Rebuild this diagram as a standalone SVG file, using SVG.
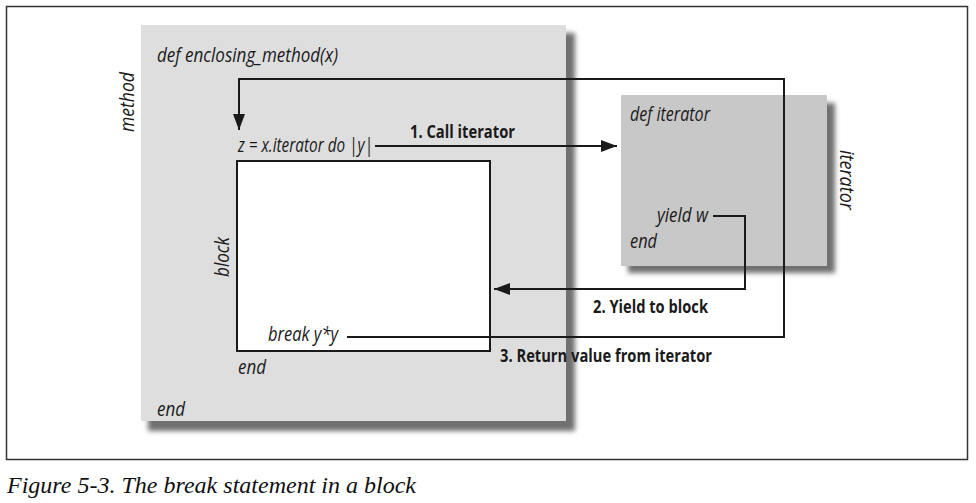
<svg xmlns="http://www.w3.org/2000/svg" width="976" height="503" viewBox="0 0 976 503">
<style>
.it{font-family:"Open Sans","Liberation Sans",sans-serif;font-style:italic;font-size:19.5px;fill:#1a1a1a}
.bd{font-family:"Open Sans","Liberation Sans",sans-serif;font-weight:bold;font-size:17.5px;fill:#1a1a1a}
.ln{fill:none;stroke:#1a1a1a;stroke-width:2}
.cap{font-family:"Liberation Serif",serif;font-style:italic;font-size:23px;fill:#111}
</style>
<defs>
<filter id="sh" x="-10%" y="-10%" width="130%" height="130%"><feGaussianBlur stdDeviation="2.5"/></filter>
<marker id="ar" markerWidth="16" markerHeight="12" refX="16" refY="6" orient="auto" markerUnits="userSpaceOnUse"><path d="M0,0 L16,6 L0,12 Z" fill="#1a1a1a"/></marker>
</defs>
<rect x="0" y="0" width="976" height="503" fill="#fff"/>
<rect x="6.5" y="6.5" width="961" height="453" fill="#fff" stroke="#333" stroke-width="1.5"/>
<g id="method">
<rect x="148" y="33" width="427" height="398" fill="#707070" filter="url(#sh)"/>
<rect x="141" y="25" width="425" height="396" fill="#dedede"/>
<text class="it" x="157" y="62" textLength="181" lengthAdjust="spacingAndGlyphs">def enclosing_method(x)</text>
<text class="it" transform="translate(134,132) rotate(-90)" textLength="60" lengthAdjust="spacingAndGlyphs">method</text>
<text class="it" x="238" y="152" textLength="135" lengthAdjust="spacingAndGlyphs">z = x.iterator do |y|</text>
<text class="it" x="157" y="416" textLength="28" lengthAdjust="spacingAndGlyphs">end</text>
</g>
<g id="block">
<rect x="237" y="161" width="253" height="190" fill="#fff" stroke="#1a1a1a" stroke-width="2"/>
<text class="it" transform="translate(229,277) rotate(-90)" textLength="40" lengthAdjust="spacingAndGlyphs">block</text>
<text class="it" x="268" y="341" textLength="70" lengthAdjust="spacingAndGlyphs">break y*y</text>
<text class="it" x="238" y="374" textLength="28" lengthAdjust="spacingAndGlyphs">end</text>
</g>
<g id="iterator">
<rect x="628" y="103" width="207" height="170" fill="#707070" filter="url(#sh)"/>
<rect x="621" y="95" width="206" height="171" fill="#c8c8c8"/>
<text class="it" x="630" y="121" textLength="80" lengthAdjust="spacingAndGlyphs">def iterator</text>
<text class="it" transform="translate(840,150) rotate(90)" textLength="60" lengthAdjust="spacingAndGlyphs">iterator</text>
<text class="it" x="657" y="222" textLength="51" lengthAdjust="spacingAndGlyphs">yield w</text>
<text class="it" x="630" y="248" textLength="27" lengthAdjust="spacingAndGlyphs">end</text>
</g>
<g id="connectors">
<path class="ln" d="M375,146 H617" marker-end="url(#ar)"/>
<path class="ln" d="M713,216 H745 V289 H494" marker-end="url(#ar)"/>
<path class="ln" d="M347,337 H784 V79 H239 V130" marker-end="url(#ar)"/>
<text class="bd" x="410" y="138" textLength="105" lengthAdjust="spacingAndGlyphs">1. Call iterator</text>
<text class="bd" x="593" y="313" textLength="115" lengthAdjust="spacingAndGlyphs">2. Yield to block</text>
<text class="bd" x="500" y="362" textLength="212" lengthAdjust="spacingAndGlyphs">3. Return value from iterator</text>
</g>
<text class="cap" x="7" y="493" textLength="409" lengthAdjust="spacingAndGlyphs">Figure 5-3. The break statement in a block</text>
</svg>
